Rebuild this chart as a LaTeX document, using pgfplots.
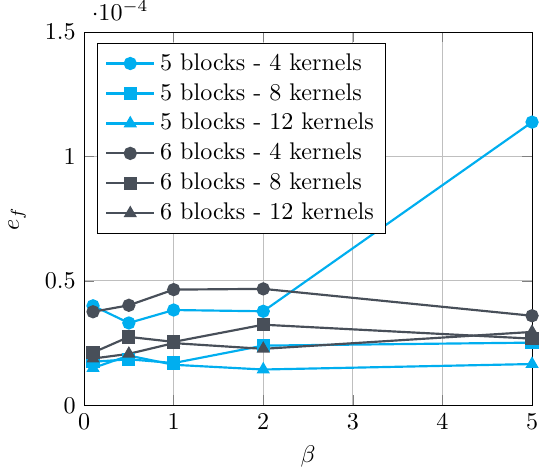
\documentclass[border=0pt]{standalone}
\usepackage{pgfplots}
\pgfplotsset{compat=1.18}
\definecolor{cy}{RGB}{0,174,239}
\definecolor{dg}{RGB}{72,79,89}
\begin{document}
\begin{tikzpicture}
\begin{axis}[
  scale only axis,
  width=186pt, height=155pt,
  xmin=0, xmax=5, ymin=0, ymax=1.5e-4,
  xtick={0,1,2,3,4,5},
  ytick={0,0.5e-4,1e-4,1.5e-4},
  grid=major,
  xlabel={$\beta$}, ylabel={$e_f$},
  ylabel style={yshift=1pt},
  legend style={at={(0.03,0.97)}, anchor=north west, cells={anchor=west}},
  legend image code/.code={\draw[mark repeat=2,mark phase=2] plot coordinates {(0cm,0cm) (0.35cm,0cm) (0.7cm,0cm)};},
  every axis plot/.append style={line width=0.9pt, mark size=2.3pt},
]
\addplot[cy, mark=*] coordinates {(0.1,0.40e-4) (0.5,0.331e-4) (1,0.383e-4) (2,0.378e-4) (5,1.138e-4)};
\addlegendentry{5 blocks - 4 kernels}
\addplot[cy, mark=square*] coordinates {(0.1,0.175e-4) (0.5,0.185e-4) (1,0.170e-4) (2,0.240e-4) (5,0.252e-4)};
\addlegendentry{5 blocks - 8 kernels}
\addplot[cy, mark=triangle*] coordinates {(0.1,0.150e-4) (0.5,0.200e-4) (1,0.163e-4) (2,0.144e-4) (5,0.166e-4)};
\addlegendentry{5 blocks - 12 kernels}
\addplot[dg, mark=*] coordinates {(0.1,0.376e-4) (0.5,0.402e-4) (1,0.465e-4) (2,0.468e-4) (5,0.360e-4)};
\addlegendentry{6 blocks - 4 kernels}
\addplot[dg, mark=square*] coordinates {(0.1,0.212e-4) (0.5,0.275e-4) (1,0.255e-4) (2,0.324e-4) (5,0.268e-4)};
\addlegendentry{6 blocks - 8 kernels}
\addplot[dg, mark=triangle*] coordinates {(0.1,0.188e-4) (0.5,0.207e-4) (1,0.250e-4) (2,0.227e-4) (5,0.295e-4)};
\addlegendentry{6 blocks - 12 kernels}
\end{axis}
\pgfresetboundingbox
\path (current axis.south west) ++(-34.9pt,-28.2pt);
\path (current axis.north east) ++(3.3pt,13.3pt);
\end{tikzpicture}
\end{document}
